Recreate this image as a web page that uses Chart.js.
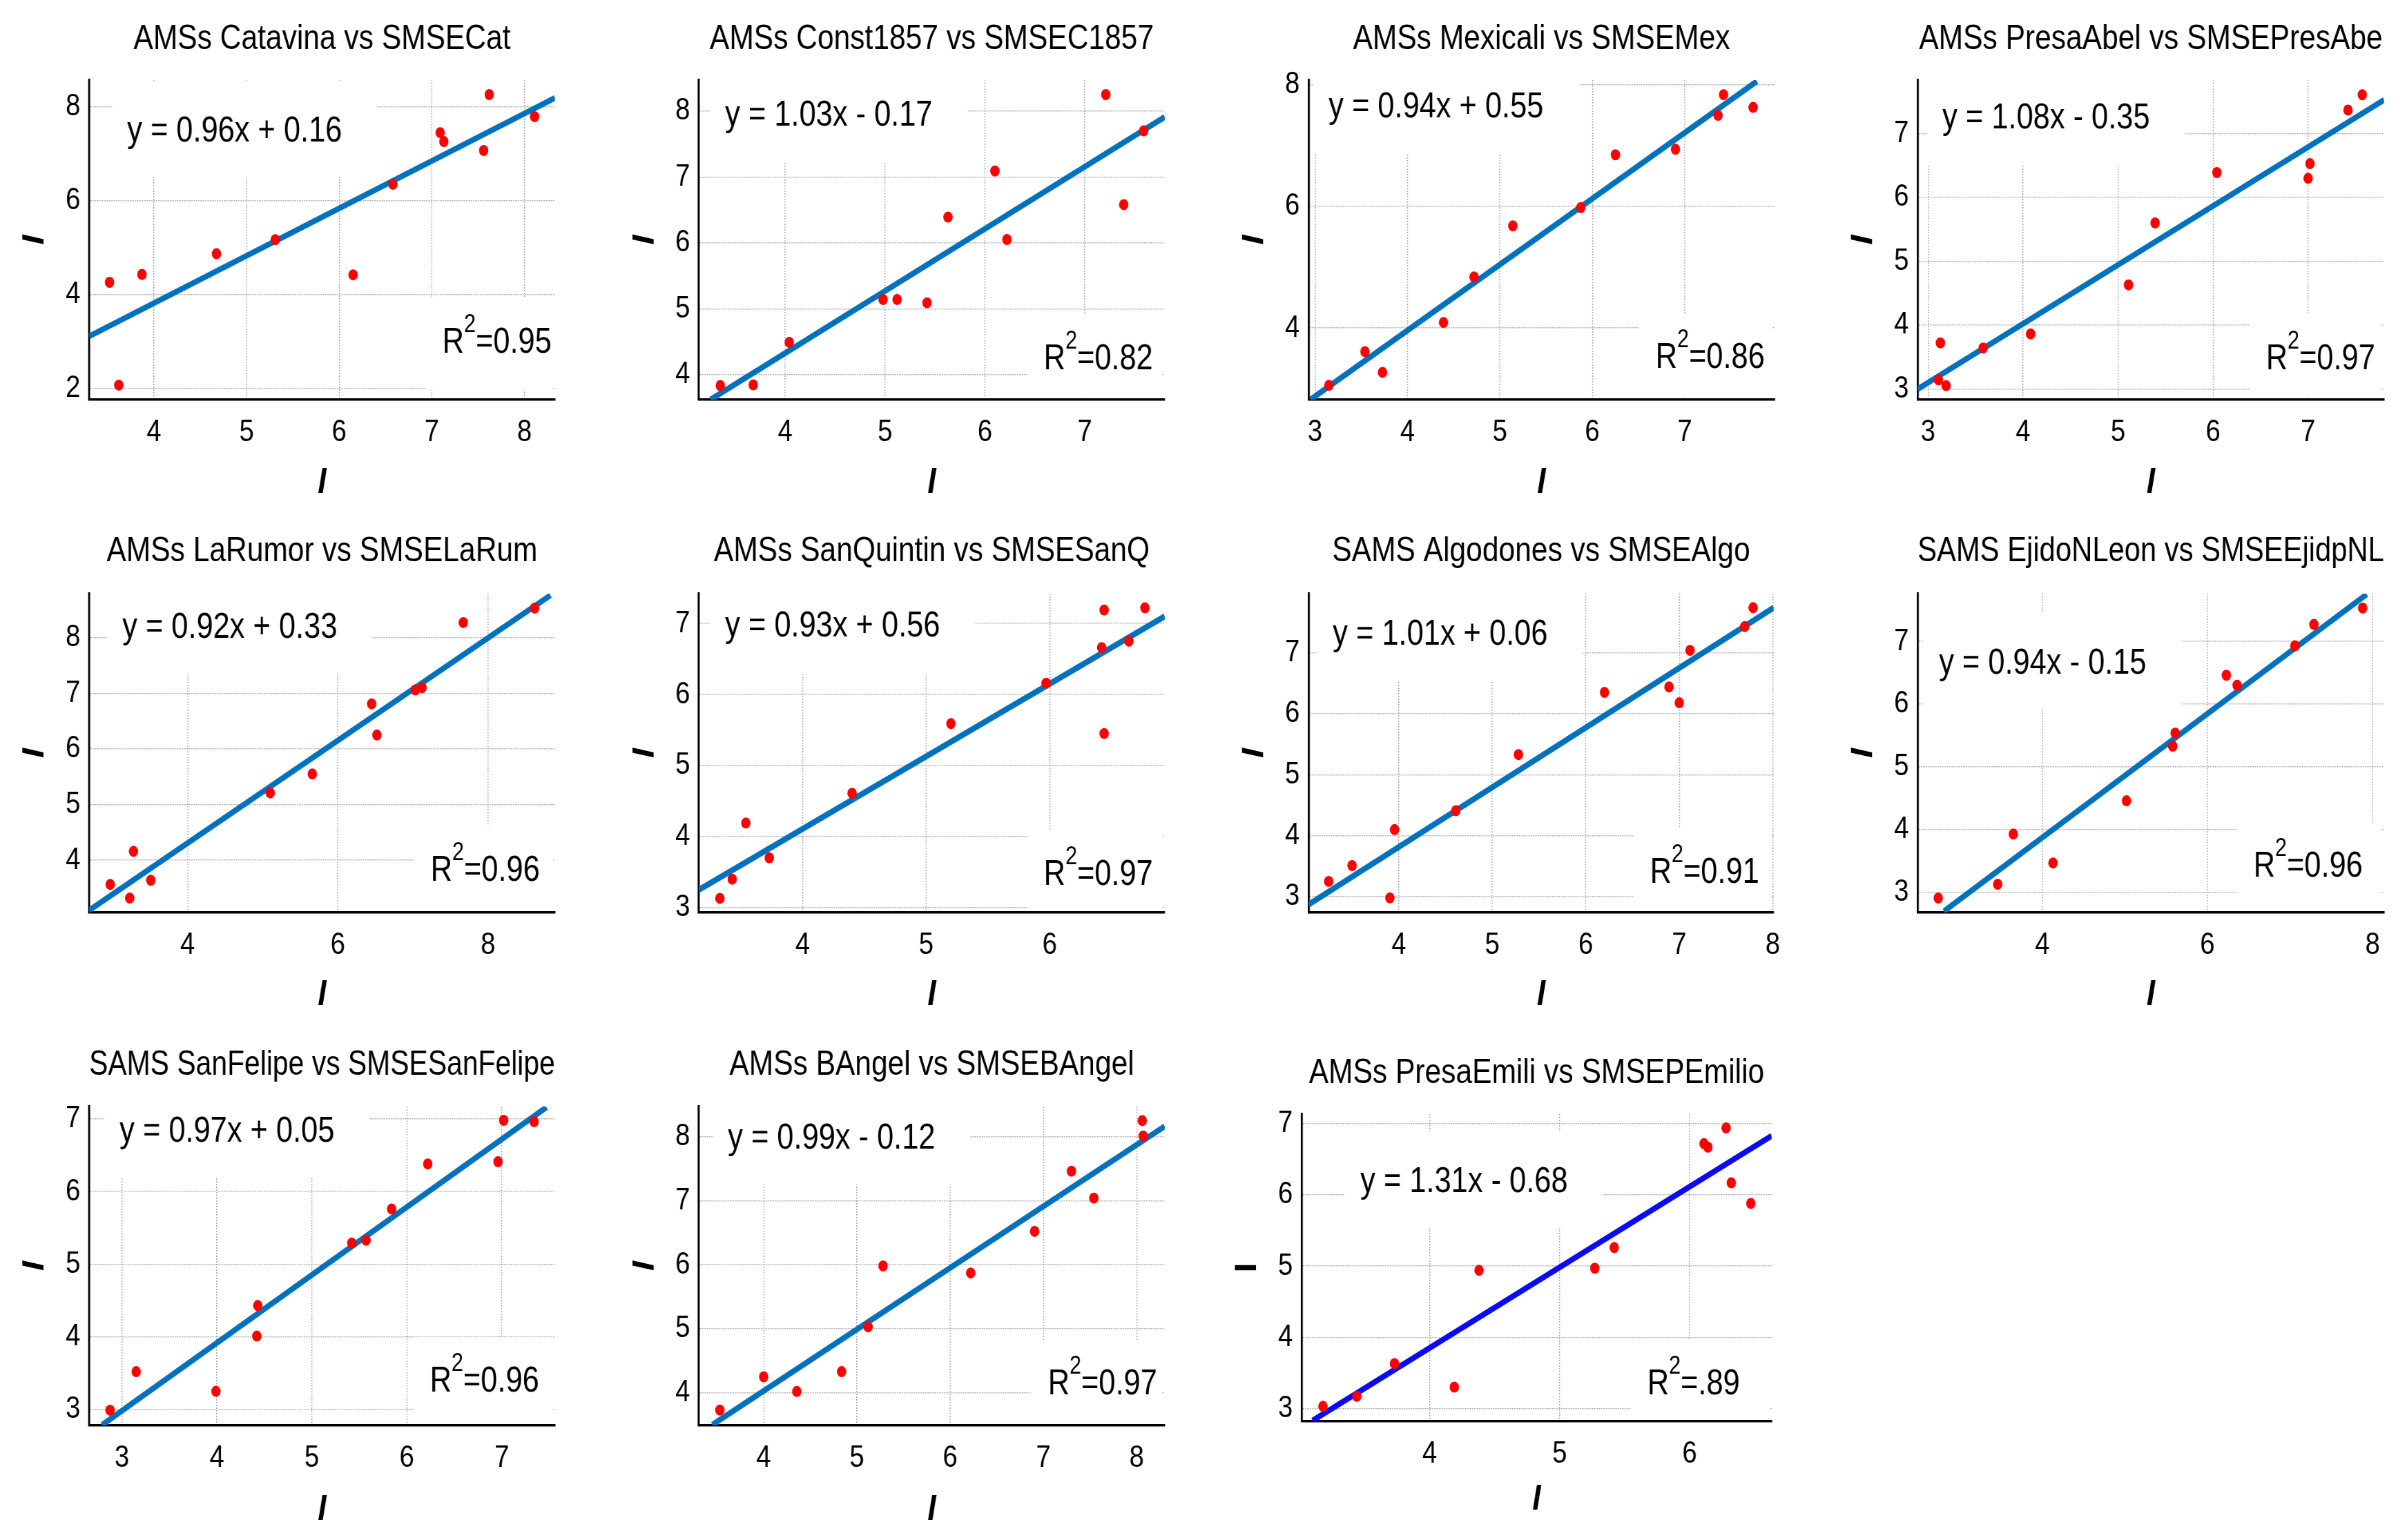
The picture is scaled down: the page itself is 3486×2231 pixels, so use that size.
<!DOCTYPE html>
<html>
<head>
<meta charset="utf-8">
<script src="https://cdn.jsdelivr.net/npm/chart.js@4.4.1/dist/chart.umd.min.js"></script>
<style>
  html, body { margin: 0; padding: 0; background: #fff; }
  body { width: 3486px; height: 2231px; position: relative; overflow: hidden; }
  .panel { position: absolute; }
  .inner { position: absolute; left: 0; top: 0; transform-origin: 0 0; }
</style>
</head>
<body>
<script>
// ---- data ----
const titles = ['AMSs Catavina vs SMSECat', 'AMSs Const1857 vs SMSEC1857', 'AMSs Mexicali vs SMSEMex',
  'AMSs PresaAbel vs SMSEPresAbe', 'AMSs LaRumor vs SMSELaRum', 'AMSs SanQuintin vs SMSESanQ',
  'SAMS Algodones vs SMSEAlgo', 'SAMS EjidoNLeon vs SMSEEjidpNL', 'SAMS SanFelipe vs SMSESanFelipe',
  'AMSs BAngel vs SMSEBAngel', 'AMSs PresaEmili vs SMSEPEmilio'];
const equations = ['y = 0.96x + 0.16', 'y = 1.03x - 0.17', 'y = 0.94x + 0.55', 'y = 1.08x - 0.35',
  'y = 0.92x + 0.33', 'y = 0.93x + 0.56', 'y = 1.01x + 0.06', 'y = 0.94x - 0.15',
  'y = 0.97x + 0.05', 'y = 0.99x - 0.12', 'y = 1.31x - 0.68'];
const r2Values = ['0.95', '0.82', '0.86', '0.97', '0.96', '0.97', '0.91', '0.96', '0.96', '0.97', '.89'];

const obsX = [
  [3.52, 3.62, 3.87, 4.675, 5.31, 6.15, 6.58, 7.09, 7.13, 7.56, 7.62, 8.11],
  [3.35, 3.68, 4.04, 4.98, 5.12, 5.42, 5.63, 6.10, 6.22, 7.21, 7.39, 7.59],
  [3.15, 3.54, 3.73, 4.39, 4.72, 5.14, 5.875, 6.25, 6.90, 7.36, 7.42, 7.74],
  [3.11, 3.13, 3.19, 3.58, 4.08, 5.11, 5.39, 6.04, 7.00, 7.02, 7.42, 7.57],
  [2.97, 3.23, 3.28, 3.51, 5.10, 5.66, 6.45, 6.52, 7.03, 7.12, 7.67, 8.62],
  [3.33, 3.43, 3.54, 3.73, 4.40, 5.20, 5.97, 6.42, 6.44, 6.44, 6.64, 6.77],
  [3.25, 3.50, 3.905, 3.955, 4.61, 5.28, 6.20, 6.89, 7.00, 7.115, 7.70, 7.79],
  [2.74, 3.46, 3.65, 4.13, 5.02, 5.58, 5.61, 6.23, 6.36, 7.06, 7.29, 7.88],
  [2.875, 3.15, 3.99, 4.42, 4.43, 5.42, 5.57, 5.84, 6.22, 6.96, 7.02, 7.34],
  [3.53, 4.00, 4.355, 4.835, 5.12, 5.28, 6.22, 6.905, 7.30, 7.54, 8.06, 8.07],
  [3.18, 3.44, 3.73, 4.19, 4.38, 5.27, 5.42, 6.11, 6.14, 6.28, 6.32, 6.47]
];
const obsY = [
  [4.26, 2.07, 4.43, 4.87, 5.17, 4.42, 6.35, 7.45, 7.26, 7.07, 8.26, 7.79],
  [3.835, 3.845, 4.49, 5.14, 5.14, 5.09, 6.39, 7.09, 6.05, 8.25, 6.58, 7.70],
  [3.055, 3.61, 3.27, 4.09, 4.84, 5.68, 5.98, 6.85, 6.94, 7.50, 7.84, 7.63],
  [3.14, 3.72, 3.05, 3.64, 3.86, 4.63, 5.60, 6.39, 6.30, 6.53, 7.37, 7.61],
  [3.565, 3.32, 4.16, 3.64, 5.21, 5.55, 6.81, 6.25, 7.06, 7.10, 8.27, 8.53],
  [3.13, 3.40, 4.19, 3.70, 4.61, 5.59, 6.16, 6.66, 7.19, 5.45, 6.75, 7.22],
  [3.25, 3.51, 2.98, 4.10, 4.41, 5.33, 6.35, 6.44, 6.18, 7.04, 7.43, 7.74],
  [2.91, 3.13, 3.93, 3.47, 4.46, 5.33, 5.54, 6.46, 6.30, 6.93, 7.27, 7.53],
  [2.99, 3.52, 3.25, 4.01, 4.43, 5.29, 5.33, 5.76, 6.38, 6.41, 6.98, 6.96],
  [3.73, 4.25, 4.02, 4.33, 5.03, 5.98, 5.87, 6.52, 7.46, 7.04, 8.25, 8.01],
  [3.03, 3.17, 3.63, 3.30, 4.94, 4.97, 5.26, 6.72, 6.67, 6.94, 6.17, 5.88]
];
// fitted line end points as drawn
const fitX = [[3.30, 8.33], [3.25, 7.80], [2.95, 7.78], [2.89, 7.80], [2.69, 8.83], [3.16, 6.93],
  [3.035, 8.01], [2.81, 7.93], [2.79, 7.47], [3.45, 8.30], [3.10, 6.63]];
const fitY = [[3.11, 8.19], [3.62, 7.91], [2.82, 8.06], [2.995, 7.53], [3.10, 8.76], [3.25, 7.10],
  [2.87, 7.74], [2.70, 7.75], [2.785, 7.16], [3.50, 8.16], [2.83, 6.83]];
// axis limits and tick steps
const xLimits = [[3.30, 8.33], [3.135, 7.80], [2.93, 7.97], [2.89, 7.80], [2.69, 8.89], [3.16, 6.93],
  [3.035, 8.01], [2.49, 8.14], [2.655, 7.56], [3.305, 8.30], [3.016, 6.63]];
const yLimits = [[1.76, 8.57], [3.62, 8.47], [2.82, 8.08], [2.83, 7.84], [3.06, 8.79], [2.93, 7.42],
  [2.74, 7.97], [2.68, 7.76], [2.78, 7.17], [3.49, 8.47], [2.82, 7.135]];
const xSteps = [1, 1, 1, 1, 2, 1, 1, 2, 1, 1, 1];
const ySteps = [2, 1, 2, 1, 1, 1, 1, 1, 1, 1, 1];

// ---- layout (page pixels) ----
const S = 0.85;                       // horizontal squeeze of the whole figure
const FONT = '"Liberation Sans", Arial, Helvetica, sans-serif';
const colX = [0, 870, 1740, 2610];
const colW = [870, 870, 870, 876];
const rowY = [0, 740, 1480];
const rowH = [740, 740, 751];
// plot frame: left, right, top, bottom
const frames = [
  [129, 803, 116, 579], [1012, 1686, 116, 579], [1895, 2569, 116, 579], [2777, 3452, 116, 579],
  [129, 803, 860, 1322], [1012, 1686, 860, 1322], [1895, 2568, 860, 1322], [2777, 3452, 860, 1322],
  [129, 803, 1603, 2065], [1012, 1686, 1603, 2065], [1885, 2565, 1614, 2059]
];
const titleMid = [57, 57, 57, 57, 799, 799, 799, 799, 1543, 1543, 1555];
const xTitleMid = [700, 700, 700, 700, 1442, 1442, 1442, 1442, 2188, 2188, 2173];
const eqOffset = [[55, 71], [38, 48], [29, 36], [36, 52], [48, 46], [38, 44], [35, 56], [31, 98], [44, 33], [42, 43], [85, 95]];
const r2Offset = [[5, 86], [17, 62], [14, 64], [13, 62], [22, 64], [17, 58], [21, 61], [31, 70], [23, 67], [11, 63], [46, 57]];
const lineColors = ['#0072bd', '#0072bd', '#0072bd', '#0072bd', '#0072bd', '#0072bd', '#0072bd',
  '#0072bd', '#0072bd', '#0072bd', '#0a0af5'];
const GRID = '#a3a3a3';

// equation and R^2 text, each sitting on a white box that hides the grid
const annotate = {
  id: 'annotate',
  layoutText(chart, o) {
    const ctx = chart.ctx, a = chart.chartArea;
    ctx.font = '51px ' + FONT;
    const eqX = a.left + o.eq[0] / S, eqY = a.top + o.eq[1];
    const eqW = ctx.measureText(o.eqText).width;
    const rest = '=' + o.r2;
    const restW = ctx.measureText(rest).width, rW = ctx.measureText('R').width;
    ctx.font = '36px ' + FONT;
    const supW = ctx.measureText('2').width;
    const rRight = a.right - o.r2Pos[0] / S, rMid = a.bottom - o.r2Pos[1];
    return { eqX, eqY, eqW, rest, restW, rW, supW, rRight, rMid, rLeft: rRight - restW - supW - rW };
  },
  beforeDatasetsDraw(chart, args, o) {
    const ctx = chart.ctx, a = chart.chartArea, t = this.layoutText(chart, o);
    const box = (x1, y1, x2, y2) => {
      x1 = Math.max(x1, a.left + 3); y1 = Math.max(y1, a.top);
      x2 = Math.min(x2, a.right); y2 = Math.min(y2, a.bottom - 3);
      ctx.fillRect(x1, y1, x2 - x1, y2 - y1);
    };
    ctx.save();
    ctx.fillStyle = '#fff';
    box(t.eqX - 26, t.eqY - 70, t.eqX + t.eqW + 60, t.eqY + 70);
    box(t.rLeft - 28, t.rMid - 61, a.right - 4, t.rMid + 72);
    ctx.restore();
  },
  afterDatasetsDraw(chart, args, o) {
    const ctx = chart.ctx, t = this.layoutText(chart, o);
    ctx.save();
    ctx.fillStyle = '#000';
    ctx.textBaseline = 'alphabetic';
    ctx.textAlign = 'left';
    ctx.font = '51px ' + FONT;
    ctx.fillText(o.eqText, t.eqX, t.eqY + 18);
    const base = t.rMid + 18;
    ctx.fillText('R', t.rLeft, base);
    ctx.fillText(t.rest, t.rLeft + t.rW + t.supW, base);
    ctx.font = '36px ' + FONT;
    ctx.fillText('2', t.rLeft + t.rW, base - 30);
    ctx.restore();
  }
};

titles.forEach((title, i) => {
  const col = i % 4, row = Math.floor(i / 4);
  const [L, R, T, B] = frames[i];
  const pw = colW[col], ph = rowH[row];

  const panel = document.createElement('div');
  panel.className = 'panel';
  panel.style.left = colX[col] + 'px';
  panel.style.top = rowY[row] + 'px';
  panel.style.width = pw + 'px';
  panel.style.height = ph + 'px';
  const inner = document.createElement('div');
  inner.className = 'inner';
  inner.style.width = (pw / S) + 'px';
  inner.style.height = ph + 'px';
  inner.style.transform = 'scaleX(' + S + ')';
  const canvas = document.createElement('canvas');
  inner.appendChild(canvas);
  panel.appendChild(inner);
  document.body.appendChild(panel);

  const plotLeft = (L - colX[col]) / S;
  const padRight = (colX[col] + pw - R) / S;
  const plotTop = T - rowY[row];
  const xAxisH = rowY[row] + ph - B;
  const titleLH = 60;
  const titlePadTop = titleMid[i] - rowY[row] - titleLH / 2;
  const axisLH = 62.4;
  const xTitlePad = rowY[row] + ph - xTitleMid[i] - axisLH / 2;
  const yTitlePad = (L - colX[col] - 78) / S - axisLH / 2;

  const pts = obsX[i].map((x, k) => ({ x, y: obsY[i][k] }));
  const fit = fitX[i].map((x, k) => ({ x, y: fitY[i][k] }));

  const tickFont = { family: FONT, size: 45 };
  const axisTitleFont = { family: FONT, size: 52, weight: 'bold', style: 'italic', lineHeight: 1.2 };

  new Chart(canvas, {
    type: 'scatter',
    data: {
      datasets: [
        { data: pts, pointRadius: 8, pointHoverRadius: 8, backgroundColor: '#ff0000', borderWidth: 0, order: 0 },
        { type: 'line', data: fit, borderColor: lineColors[i], borderWidth: 8.5, pointRadius: 0,
          fill: false, tension: 0, order: 1 }
      ]
    },
    options: {
      responsive: true,
      maintainAspectRatio: false,
      animation: false,
      events: [],
      layout: { padding: { left: 0, top: 0, right: padRight, bottom: 0 } },
      plugins: {
        legend: { display: false },
        tooltip: { enabled: false },
        title: {
          display: true, text: title, fullSize: false, color: '#000',
          font: { family: FONT, size: 50, weight: 'normal', lineHeight: 1.2 },
          padding: { top: titlePadTop, bottom: plotTop - titleLH - titlePadTop }
        },
        annotate: { eqText: equations[i], r2: r2Values[i], eq: eqOffset[i], r2Pos: r2Offset[i] }
      },
      scales: {
        x: {
          type: 'linear', min: xLimits[i][0], max: xLimits[i][1],
          afterFit: s => { s.height = xAxisH; },
          grid: { color: GRID, lineWidth: 1.5, drawTicks: false },
          border: { display: true, color: '#000', width: 3.5, dash: [2, 2] },
          ticks: { stepSize: xSteps[i], includeBounds: false, autoSkip: false, maxRotation: 0,
            padding: 21, color: '#000', font: tickFont },
          title: { display: true, text: 'I', color: '#000', font: axisTitleFont,
            padding: { top: 0, bottom: xTitlePad } }
        },
        y: {
          type: 'linear', min: yLimits[i][0], max: yLimits[i][1],
          afterFit: s => { s.width = plotLeft; },
          grid: { color: GRID, lineWidth: 1.5, drawTicks: false },
          border: { display: true, color: '#000', width: 3.5, dash: [2, 2] },
          ticks: { stepSize: ySteps[i], includeBounds: false, autoSkip: false,
            padding: 15, color: '#000', font: tickFont },
          title: { display: true, text: 'I', color: '#000',
            font: i === 10 ? { family: FONT, size: 52, weight: 'bold', lineHeight: 1.2 } : axisTitleFont,
            padding: { top: yTitlePad, bottom: 0 } }
        }
      }
    },
    plugins: [annotate]
  });
});
</script>
</body>
</html>
